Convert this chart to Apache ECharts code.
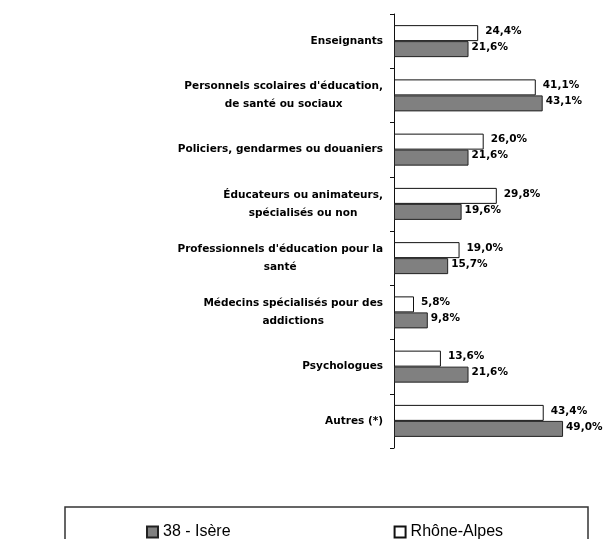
<!DOCTYPE html>
<html>
<head>
<meta charset="utf-8">
<script src="https://cdn.jsdelivr.net/npm/echarts@6/dist/echarts.min.js"></script>
<style>
html,body{margin:0;padding:0;background:#fff;}
#main{width:608px;height:539px;}
</style>
</head>
<body>
<div id="main"></div>
<script>
var categories = [
  "Enseignants",
  "Personnels scolaires d'éducation,\nde santé ou sociaux",
  "Policiers, gendarmes ou douaniers",
  "Éducateurs ou animateurs,\nspécialisés ou non",
  "Professionnels d'éducation pour la\nsanté",
  "Médecins spécialisés pour des\naddictions",
  "Psychologues",
  "Autres (*)"
];
var isere = [21.6, 43.1, 21.6, 19.6, 15.7, 9.8, 21.6, 49.0];
var rhoneAlpes = [24.4, 41.1, 26.0, 29.8, 19.0, 5.8, 13.6, 43.4];
var seriesNames = ["38 - Isère", "Rhône-Alpes"];

var chart = echarts.init(document.getElementById('main'), null, {renderer: 'canvas'});
var labelFont = {fontFamily: 'DejaVu Sans', fontWeight: 'bold', fontSize: 10.5, color: '#000'};
function fmt(p) { return p.value.toFixed(1).replace('.', ',') + '%'; }

chart.setOption({
  backgroundColor: '#fff',
  animation: false,
  grid: {left: 394, right: 41.5, top: 14, bottom: 91, containLabel: false},
  xAxis: {type: 'value', min: 0, max: 50, show: false},
  yAxis: {
    type: 'category',
    data: categories,
    inverse: true,
    axisLine: {lineStyle: {color: '#111', width: 1}},
    axisTick: {show: true, length: 4, lineStyle: {color: '#111', width: 1}},
    axisLabel: {
      margin: 11,
      formatter: function (v) {
        return v.split('\n').map(function (l) { return '{c|' + l + '}'; }).join('\n');
      },
      rich: {
        c: {align: 'center', fontFamily: 'DejaVu Sans', fontWeight: 'bold', fontSize: 10.5, color: '#000', lineHeight: 18}
      }
    }
  },
  legend: {
    data: seriesNames,
    left: 141,
    top: 519,
    itemWidth: 11,
    itemHeight: 11,
    itemGap: 163,
    icon: 'rect',
    textStyle: {fontFamily: 'Liberation Sans, Arial', fontSize: 16, color: '#000'}
  },
  graphic: [{
    type: 'rect',
    shape: {x: 65, y: 507, width: 523, height: 60},
    style: {fill: 'none', stroke: '#333', lineWidth: 1.5},
    silent: true,
    z: -1
  }],
  series: [
    {
      name: 'Rhône-Alpes',
      type: 'bar',
      data: rhoneAlpes,
      barWidth: 16,
      barGap: '0%',
      itemStyle: {color: '#ffffff', borderColor: '#111', borderWidth: 1},
      label: Object.assign({show: true, position: 'right', distance: 7, offset: [0, -2], formatter: fmt}, labelFont)
    },
    {
      name: '38 - Isère',
      type: 'bar',
      data: isere,
      barWidth: 16,
      barGap: '0%',
      itemStyle: {color: '#808080', borderColor: '#222', borderWidth: 1},
      label: Object.assign({show: true, position: 'right', distance: 3, offset: [0, -2], formatter: fmt}, labelFont)
    }
  ]
});
</script>
</body>
</html>
